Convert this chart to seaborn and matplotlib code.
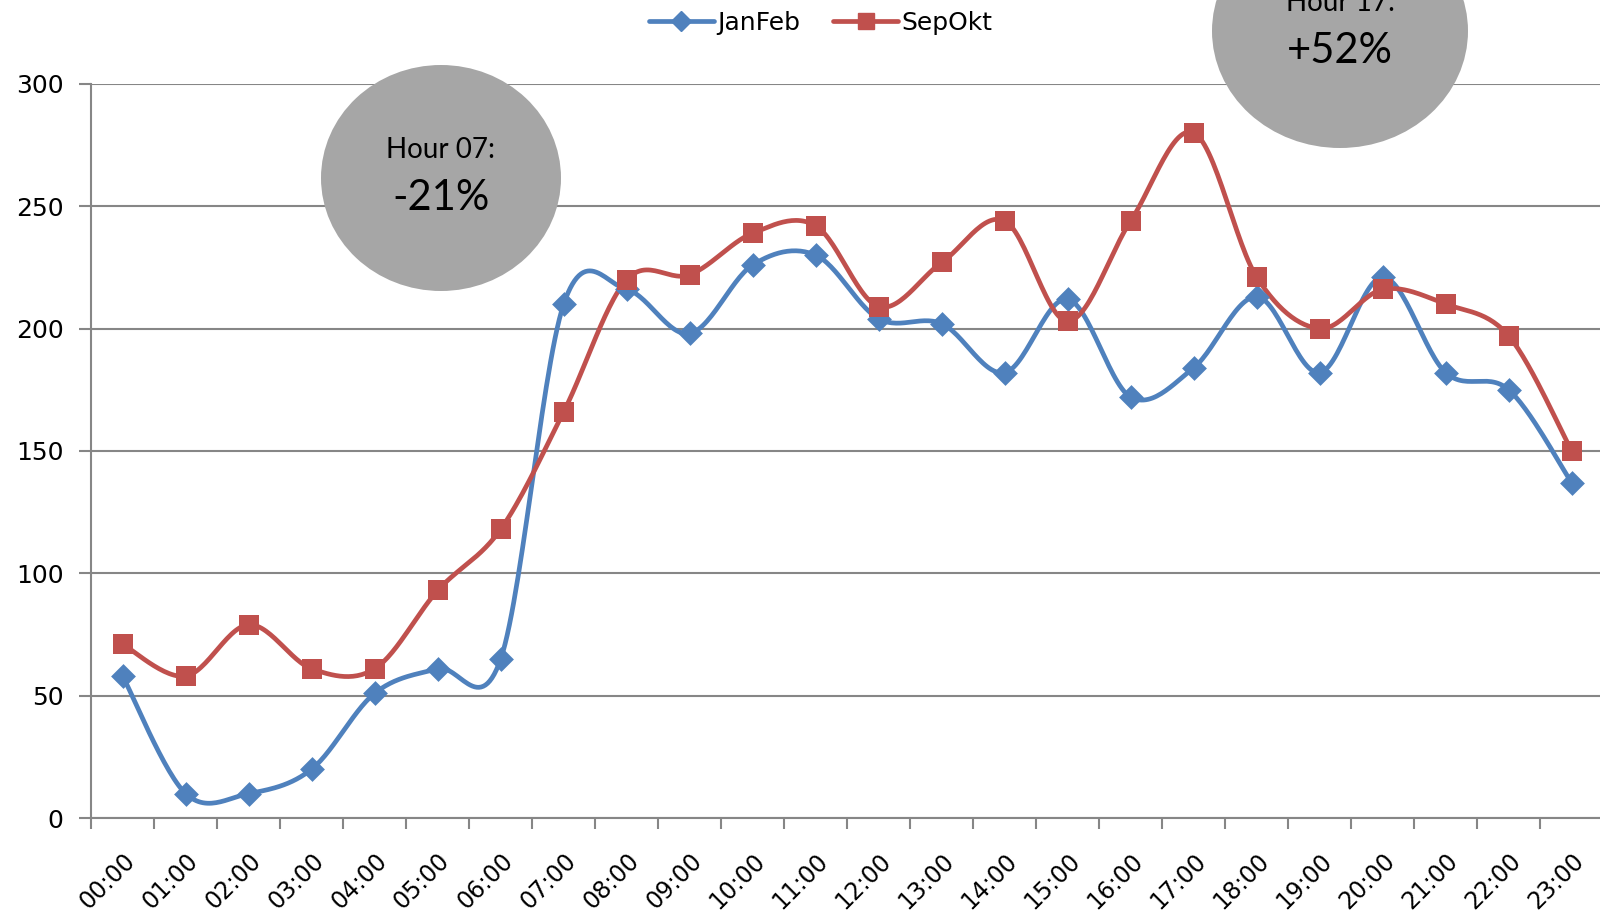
import numpy as np
import pandas as pd
import seaborn as sns
import matplotlib.pyplot as plt
from matplotlib.lines import Line2D
from matplotlib.patches import Ellipse

hours = ['%02d:00' % h for h in range(24)]
janfeb = [58, 10, 10, 20, 51, 61, 65, 210, 216, 198, 226, 230,
          204, 202, 182, 212, 172, 184, 213, 182, 221, 182, 175, 137]
sepokt = [71, 58, 79, 61, 61, 93, 118, 166, 220, 222, 239, 242,
          209, 227, 244, 203, 244, 280, 221, 200, 216, 210, 197, 150]

blue = '#4F81BD'
red = '#C0504D'


# Excel-style smoothed line (cubic bezier through points, catmull-rom controls)
def smooth(y, n=30):
    p = np.column_stack([np.arange(len(y)), np.asarray(y, float)])
    xs, ys = [], []
    t = np.linspace(0, 1, n)[:, None]
    for i in range(len(p) - 1):
        p0 = p[max(i - 1, 0)]
        p1, p2 = p[i], p[i + 1]
        p3 = p[min(i + 2, len(p) - 1)]
        c1 = p1 + (p2 - p0) / 6
        c2 = p2 - (p3 - p1) / 6
        b = ((1 - t) ** 3) * p1 + 3 * ((1 - t) ** 2) * t * c1 + 3 * (1 - t) * t ** 2 * c2 + t ** 3 * p2
        xs.append(b[:, 0])
        ys.append(b[:, 1])
    return np.concatenate(xs), np.concatenate(ys)


df = pd.DataFrame({'x': np.arange(24), 'JanFeb': janfeb, 'SepOkt': sepokt})

sns.set_theme(style='white')
plt.rcParams['font.family'] = ['DejaVu Sans']
plt.rcParams['text.color'] = 'black'
plt.rcParams['xtick.color'] = 'black'
plt.rcParams['ytick.color'] = 'black'

fig = plt.figure(figsize=(16, 9.11), dpi=100)
ax = fig.add_axes([0.057, 0.102, 0.945, 0.806])

for col, c in [('JanFeb', blue), ('SepOkt', red)]:
    sx, sy = smooth(df[col])
    ax.plot(sx, sy, color=c, lw=3.4, solid_capstyle='round', zorder=3)

sns.scatterplot(data=df, x='x', y='JanFeb', marker='D', s=160, color=blue,
                edgecolor=blue, linewidth=0, ax=ax, zorder=4)
sns.scatterplot(data=df, x='x', y='SepOkt', marker='s', s=210, color=red,
                edgecolor=red, linewidth=0, ax=ax, zorder=4)

ax.set_xlim(-0.5, 23.5)
ax.set_ylim(0, 300)
ax.set_yticks(range(0, 301, 50))
ax.set_xticks(np.arange(-0.5, 24, 1))
ax.set_xticklabels([])
ax.set_xticks(np.arange(24), minor=True)
ax.set_xticklabels(hours, minor=True, rotation=45, ha='right', va='top',
                   rotation_mode='anchor', fontsize=17)
ax.tick_params(axis='x', which='minor', length=0, pad=22)
ax.tick_params(axis='x', which='major', length=8, width=1.5, color='#868686', direction='out', bottom=True)
ax.tick_params(axis='y', length=9, width=1.5, color='#868686', direction='out', left=True,
               labelsize=18, pad=11, labelcolor='black')
ax.yaxis.grid(True, color='#868686', lw=1.5)
ax.xaxis.grid(False)
ax.set_xlabel('')
ax.set_ylabel('')
for s in ['top', 'right']:
    ax.spines[s].set_visible(False)
for s in ['left', 'bottom']:
    ax.spines[s].set_color('#868686')
    ax.spines[s].set_linewidth(1.5)

handles = [Line2D([], [], color=blue, lw=3.4, marker='D', ms=10, label='JanFeb'),
           Line2D([], [], color=red, lw=3.4, marker='s', ms=12, label='SepOkt')]
fig.legend(handles=handles, loc='center', bbox_to_anchor=(0.513, 0.975), ncol=2,
           frameon=False, fontsize=18, handlelength=2.6, handletextpad=0.15, columnspacing=1.3)

# grey callout bubbles
W, H = 1600, 911
for cx, cy, rx, ry, top, pct in [(441, 178, 120, 113, 'Hour 07:', '-21%'),
                                  (1340, 31, 128, 117, 'Hour 17:', '+52%')]:
    e = Ellipse((cx / W, 1 - cy / H), 2 * rx / W, 2 * ry / H, transform=fig.transFigure,
                facecolor='#A6A6A6', edgecolor='none', zorder=10)
    fig.add_artist(e)
    fig.text(cx / W, 1 - (cy - 28) / H, top, ha='center', va='center', fontsize=20,
             family=['Lato', 'DejaVu Sans'], color='black', zorder=11)
    fig.text(cx / W, 1 - (cy + 20) / H, pct, ha='center', va='center', fontsize=30,
             family=['Lato', 'DejaVu Sans'], color='black', zorder=11)

fig.savefig('out.png', dpi=100)
